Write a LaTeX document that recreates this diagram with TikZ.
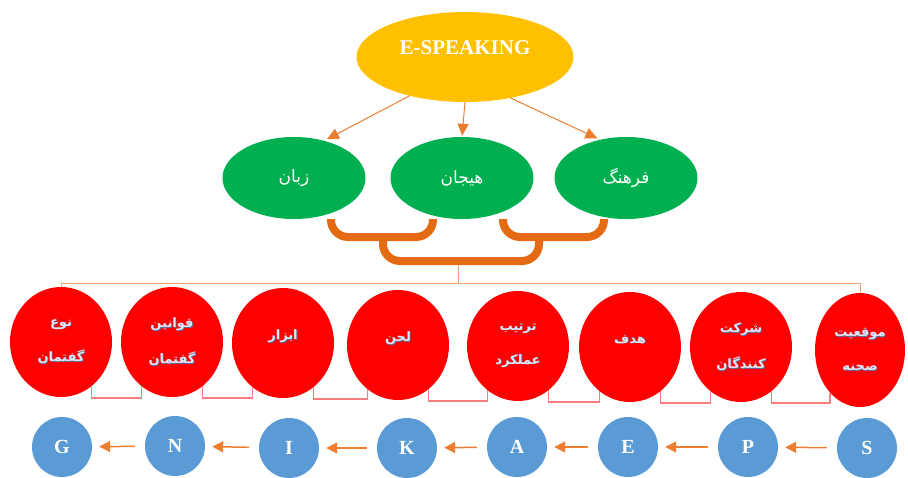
\documentclass[tikz,border=0pt]{standalone}
\usepackage{fontspec}
\setmainfont{Liberation Serif}
\newfontfamily\farsi[Script=Arabic]{DejaVu Sans}
\TeXXeTstate=1
\usetikzlibrary{shapes.geometric,arrows.meta,calc}
\definecolor{gold}{HTML}{FFC000}
\definecolor{okgreen}{HTML}{00B050}
\definecolor{okred}{HTML}{FF0000}
\definecolor{okblue}{HTML}{5B9BD5}
\definecolor{arrorange}{HTML}{ED7D31}
\definecolor{brkorange}{RGB}{228,106,20}
\definecolor{linkorange}{RGB}{242,160,110}
\definecolor{pinkline}{RGB}{250,125,125}
\definecolor{redtxt}{RGB}{222,232,248}
\definecolor{redshade}{RGB}{95,110,160}
\newcommand\prs[1]{\beginR #1\endR}
% light lettering with a soft offset shade behind it
\newcommand\prsS[1]{\rlap{\textcolor{redshade}{\raisebox{-0.8pt}{\kern0.8pt\prs{#1}}}}\prs{#1}}
\begin{document}
\begin{tikzpicture}[x=1pt,y=-1pt,
  yellownode/.style={ellipse, fill=gold, minimum width=217pt, minimum height=90pt, inner sep=0pt,
    text=white, font=\bfseries\fontsize{21}{24}\selectfont},
  greennode/.style={ellipse, fill=okgreen, minimum width=143pt, minimum height=82pt, inner sep=0pt,
    text=white, font=\farsi\fontsize{17}{20}\selectfont},
  rednode/.style={ellipse, fill=okred, minimum width=102pt, minimum height=110pt, inner sep=0pt,
    text=redtxt, align=center, font=\farsi\bfseries\fontsize{13}{15}\selectfont},
  bluenode/.style={circle, fill=okblue, minimum size=60pt, inner sep=0pt,
    text=white, font=\bfseries\fontsize{20}{24}\selectfont},
  toparrow/.style={draw=arrorange, line width=1pt, -{Triangle[length=12pt,width=11pt]}},
  seqarrow/.style={draw=arrorange, line width=1.5pt, -{Triangle[length=11pt,width=11pt]},
    shorten <=10pt, shorten >=7pt},
  bracketline/.style={draw=brkorange, line width=8pt, rounded corners=17pt},
  thinlink/.style={draw=linkorange, line width=1pt},
  redlink/.style={draw=pinkline, line width=1.2pt},
]
\useasboundingbox (0,0) rectangle (908,477);

% top level
\node[yellownode] (es) at (465,57) {\raisebox{18pt}{E-SPEAKING}};

% second level
\node[greennode] (zaban)   at (294,178) {\prs{زبان}};
\node[greennode] (hayajan) at (462,178) {\prs{هیجان}};
\node[greennode] (farhang) at (626,178) {\prs{فرهنگ}};

\draw[toparrow, shorten >=3pt] (es.-145) -- (zaban.51);
\draw[toparrow, shorten >=1pt] (es.south) -- (hayajan.north);
\draw[toparrow, shorten >=3pt] (es.-42) -- (farhang.124);

% component circles
\node[rednode] (r1) at (61,342)  {\prsS{نوع}\\[19pt]\prsS{گفتمان}};
\node[rednode] (r2) at (172,342) {\prsS{قوانین}\\[19pt]\prsS{گفتمان}};
\node[rednode] (r3) at (283,343) {\raisebox{16pt}{\prsS{ابزار}}};
\node[rednode] (r4) at (398,345) {\raisebox{16pt}{\prsS{لحن}}};
\node[rednode] (r5) at (518,346) {\prsS{ترتیب}\\[19pt]\prsS{عملکرد}};
\node[rednode] (r6) at (630,347) {\raisebox{16pt}{\prsS{هدف}}};
\node[rednode] (r7) at (741,347) {\prsS{شرکت}\\[19pt]\prsS{کنندگان}};
\node[rednode, minimum width=90pt, minimum height=114pt] (r8) at (860,350) {\prsS{موقعیت}\\[19pt]\prsS{صحنه}};

% links between neighbouring circles
\foreach \a/\b in {r1/r2,r2/r3,r3/r4,r4/r5,r5/r6,r6/r7,r7/r8}
  \draw[redlink] (\a.-55) -- ++(0,12) -| (\b.-125);

% brackets joining the three branches
\coordinate (lb)    at (383,237);
\coordinate (rb)    at (539,237);
\coordinate (hub)   at (458,261);
\coordinate (split) at (458,283);

\draw[thinlink] (hub) -- (split) -| (r1.north);
\draw[thinlink] (split) -| (r8.north);

\draw[bracketline] ($(zaban.south)+(37,0)$) |- (lb) -| ($(hayajan.south)+(-29,0)$);
\draw[bracketline] ($(hayajan.south)+(41,0)$) |- (rb) -| ($(farhang.south)+(-22,0)$);
\draw[bracketline] (lb) |- (hub) -| (rb);

% acronym letters
\node[bluenode] (bG) at (62,447)  {G};
\node[bluenode] (bN) at (175,446) {N};
\node[bluenode] (bI) at (289,448) {I};
\node[bluenode] (bK) at (407,448) {K};
\node[bluenode] (bA) at (517,447) {A};
\node[bluenode] (bE) at (628,447) {E};
\node[bluenode] (bP) at (748,447) {P};
\node[bluenode] (bS) at (867,448) {S};

\foreach \a/\b in {bS/bP,bP/bE,bE/bA,bA/bK,bK/bI,bI/bN,bN/bG}
  \draw[seqarrow] (\a) -- (\b);
\end{tikzpicture}
\end{document}
